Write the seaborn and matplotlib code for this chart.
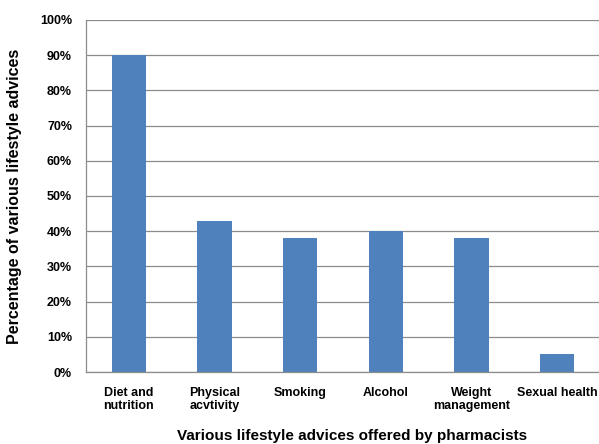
import matplotlib
matplotlib.use("Agg")
import matplotlib.pyplot as plt
import seaborn as sns
import pandas as pd
import numpy as np
from matplotlib.ticker import FixedLocator, PercentFormatter

categories = ["Diet and\nnutrition", "Physical\nacvtivity", "Smoking", "Alcohol", "Weight\nmanagement", "Sexual health"]
values = [90, 43, 38, 40, 38, 5]

sns.set_theme(style="white")
plt.rcParams['font.family'] = ['Liberation Sans', 'DejaVu Sans']
plt.rcParams['text.color'] = 'black'
plt.rcParams['axes.labelcolor'] = 'black'
plt.rcParams['xtick.color'] = 'black'
plt.rcParams['ytick.color'] = 'black'

df = pd.DataFrame({"cat": categories, "val": values})

fig = plt.figure(figsize=(5.99, 4.44), dpi=100)
ax = fig.add_axes([86/599, 72/444, 514/599, 352/444])

sns.barplot(data=df, x="cat", y="val", color="#4F81BD", width=0.4, ax=ax, saturation=1, linewidth=0)

ax.set_xlim(-0.5, 5.5)
ax.set_ylim(0, 100)
ax.set_yticks(np.arange(0, 101, 10))
ax.yaxis.set_major_formatter(PercentFormatter(decimals=0))
ax.grid(axis="y", color="#8C8C8C", linewidth=0.9)
ax.set_axisbelow(True)
for s in ["top", "right"]:
    ax.spines[s].set_visible(False)
for s in ["left", "bottom"]:
    ax.spines[s].set_color("#8C8C8C")
    ax.spines[s].set_linewidth(0.9)

ax.tick_params(axis="y", which="major", direction="out", length=5, color="#8C8C8C", width=0.9, labelsize=9, pad=5, labelcolor="black")
ax.tick_params(axis="x", which="major", length=0, labelsize=9, pad=11, labelcolor="black")
ax.xaxis.set_minor_locator(FixedLocator(np.arange(-0.5, 5.6, 1.0)))
ax.tick_params(axis="x", which="minor", direction="out", length=5, color="#8C8C8C", width=0.9)
for lab in ax.get_xticklabels() + ax.get_yticklabels():
    lab.set_fontweight("bold")
for lab in ax.get_xticklabels():
    lab.set_linespacing(1.1)

ax.set_xlabel("Various lifestyle advices offered by pharmacists", fontsize=11, fontweight="bold", labelpad=14)
ax.xaxis.set_label_coords((352 - 86) / 514, -(436 - 372) / 352 + 0.02)
ax.set_ylabel("Percentage of various lifestyle advices", fontsize=11.5, fontweight="bold", labelpad=13)

fig.savefig("out.png", dpi=100)
